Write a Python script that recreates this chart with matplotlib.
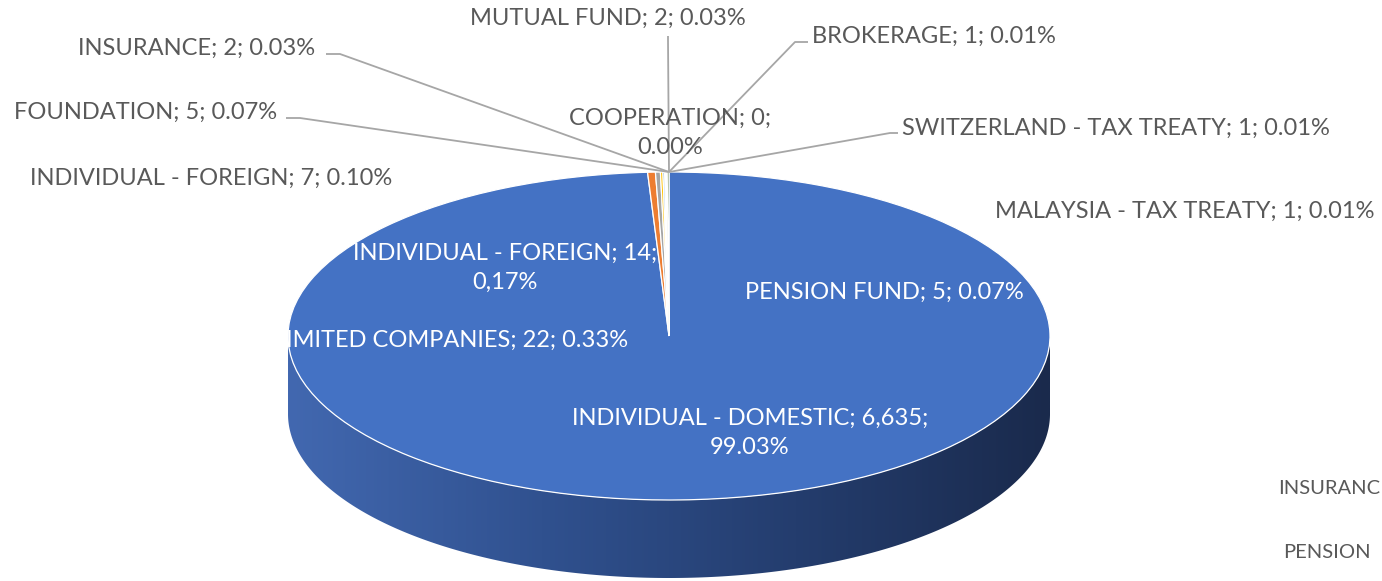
import numpy as np
import matplotlib.pyplot as plt
from matplotlib.colors import LinearSegmentedColormap
from matplotlib.patches import Polygon

W, H = 1382, 581

# data
categories = ['INDIVIDUAL - DOMESTIC', 'LIMITED COMPANIES', 'INDIVIDUAL - FOREIGN',
              'INDIVIDUAL - FOREIGN', 'FOUNDATION', 'INSURANCE', 'MUTUAL FUND',
              'COOPERATION', 'BROKERAGE', 'SWITZERLAND - TAX TREATY',
              'MALAYSIA - TAX TREATY', 'PENSION FUND']
counts = [6635, 22, 14, 7, 5, 2, 2, 0, 1, 1, 1, 5]
shares = ['99.03%', '0.33%', '0,17%', '0.10%', '0.07%', '0.03%', '0.03%',
          '0.00%', '0.01%', '0.01%', '0.01%', '0.07%']
colors = ['#4472C4', '#ED7D31', '#A5A5A5', '#FFC000', '#5B9BD5', '#70AD47',
          '#264478', '#9E480E', '#636363', '#997300', '#255E91', '#43682B']

# pie geometry (pixels): centre, half axes, depth of the side
cx, cy, rx, ry, depth = 669, 336, 381, 164, 78

plt.rcParams['font.family'] = ['Lato', 'DejaVu Sans']
fig = plt.figure(figsize=(W / 100, H / 100), dpi=100)

ax = fig.add_axes([0, 0, 1, 1])
ax.pie(counts, colors=colors, startangle=90, counterclock=False,
       radius=1, center=(0, 0), frame=False,
       wedgeprops=dict(edgecolor='white', linewidth=0.9))

# side of the 3d pie, gradient clipped to the lower rim
d = depth / ry
th = np.linspace(np.pi, 2 * np.pi, 300)
rim = np.c_[np.cos(th), np.sin(th)]
side = np.vstack([rim, (rim - [0, d])[::-1]])
poly = Polygon(side, closed=True, facecolor='none', edgecolor='none')
ax.add_patch(poly)
cmap = LinearSegmentedColormap.from_list(
    'side', ['#4268B0', '#30518F', '#243D6E', '#1A2A4C'])
grad = np.linspace(0, 1, 256).reshape(1, -1)
im = ax.imshow(grad, extent=[-1, 1, -1 - d, 0.05], aspect='auto',
               cmap=cmap, zorder=0)
im.set_clip_path(poly)

ax.set_xlim(-cx / rx, (W - cx) / rx)
ax.set_ylim(-(H - cy) / ry, cy / ry)
ax.set_aspect('auto')
ax.axis('off')

# labels in pixel space
tx = fig.add_axes([0, 0, 1, 1], facecolor='none')
tx.set_xlim(0, W)
tx.set_ylim(H, 0)
tx.axis('off')

grey = '#595959'
fs = 17
breaks = {0, 2, 7}


def label(i):
    s = [categories[i], f'{counts[i]:,}', shares[i]]
    if i in breaks:
        return f'{s[0]}; {s[1]};\n{s[2]}'
    return '; '.join(s)


# (index, x, y, ha, colour)
layout = [
    (0, 750, 433, 'center', 'white'),
    (1, 628, 340, 'right', 'white'),
    (2, 505, 268, 'center', 'white'),
    (3, 30, 178, 'left', grey),
    (4, 14, 112, 'left', grey),
    (5, 78, 48, 'left', grey),
    (6, 470, 18, 'left', grey),
    (7, 670, 133, 'center', grey),
    (8, 812, 36, 'left', grey),
    (9, 902, 128, 'left', grey),
    (10, 995, 211, 'left', grey),
    (11, 745, 292, 'left', 'white'),
]
for i, x, y, ha, c in layout:
    tx.text(x, y, label(i), ha=ha, va='center', color=c, fontsize=fs,
            linespacing=1.5, multialignment='center')

# leader lines: label end -> elbow -> top of the pie
top = (cx, cy - ry)
leaders = [
    [(326, 54), (340, 54)],
    [(286, 118), (300, 118)],
    [(668, 36), (668, 40)],
    [(808, 42), (795, 42)],
    [(898, 133), (890, 133)],
]
for pts in leaders:
    xs = [p[0] for p in pts] + [top[0]]
    ys = [p[1] for p in pts] + [top[1]]
    tx.plot(xs, ys, color='#A6A6A6', lw=1.3, solid_capstyle='butt')

# parts of labels from a neighbouring chart, visible at the right edge
tx.text(1278, 489, 'INSURANC', ha='left', va='center', color=grey, fontsize=14.5)
tx.text(1283, 552, 'PENSION', ha='left', va='center', color=grey, fontsize=14.5)

fig.savefig('out.png', dpi=100)
